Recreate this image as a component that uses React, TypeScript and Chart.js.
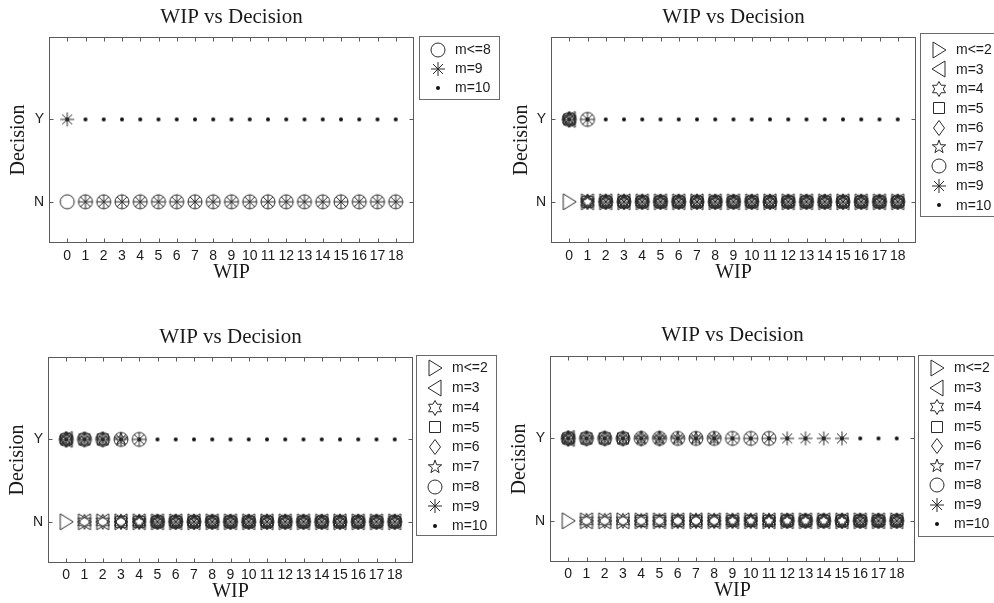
import React, { useEffect, useRef } from "react";
import { Chart, registerables } from "chart.js";

Chart.register(...registerables);

const SERIF = "'Liberation Serif', 'Times New Roman', Times, serif";
const SANS = "'Liberation Sans', Arial, Helvetica, sans-serif";
const FRAME = "#5a5a5a";
const LEGEND_BORDER = "#6a6a6a";
const MARK = "#2a2a2a";
const TEXT = "#1a1a1a";

// ---------- data ----------
const TITLE = "WIP vs Decision";
const X_TITLE = "WIP";
const Y_TITLE = "Decision";
const WIP = [0, 1, 2, 3, 4, 5, 6, 7, 8, 9, 10, 11, 12, 13, 14, 15, 16, 17, 18];
const Y_TICKS = [1, 2];
const Y_TICK_LABELS = ["N", "Y"];

const LABELS_FEW = ["m<=8", "m=9", "m=10"];
const LABELS_ALL = ["m<=2", "m=3", "m=4", "m=5", "m=6", "m=7", "m=8", "m=9", "m=10"];

// decision per WIP 0..18 (Y / N), grouped by 5 for readability
const P1_M8 = "NNNNN NNNNN NNNNN NNNN";
const P1_M9 = "YNNNN NNNNN NNNNN NNNN";
const P1_M10 = "YYYYY YYYYY YYYYY YYYY";

const P2_M2 = "NNNNN NNNNN NNNNN NNNN";
const P2_M3 = "YNNNN NNNNN NNNNN NNNN";
const P2_M4 = "YNNNN NNNNN NNNNN NNNN";
const P2_M5 = "YNNNN NNNNN NNNNN NNNN";
const P2_M6 = "YNNNN NNNNN NNNNN NNNN";
const P2_M7 = "YNNNN NNNNN NNNNN NNNN";
const P2_M8 = "YYNNN NNNNN NNNNN NNNN";
const P2_M9 = "YYNNN NNNNN NNNNN NNNN";
const P2_M10 = "YYYYY YYYYY YYYYY YYYY";

const P3_M2 = "NNNNN NNNNN NNNNN NNNN";
const P3_M3 = "YNNNN NNNNN NNNNN NNNN";
const P3_M4 = "YNNNN NNNNN NNNNN NNNN";
const P3_M5 = "YYYNN NNNNN NNNNN NNNN";
const P3_M6 = "YYYNN NNNNN NNNNN NNNN";
const P3_M7 = "YYYYN NNNNN NNNNN NNNN";
const P3_M8 = "YYYYY NNNNN NNNNN NNNN";
const P3_M9 = "YYYYY NNNNN NNNNN NNNN";
const P3_M10 = "YYYYY YYYYY YYYYY YYYY";

const P4_M2 = "NNNNN NNNNN NNNNN NNNN";
const P4_M3 = "YNNNN NNNNN NNNNN NNNN";
const P4_M4 = "YNNNN NNNNN NNNNN NNNN";
const P4_M5 = "YYYYN NNNNN NNNNN NNNN";
const P4_M6 = "YYYYY YNNNN NNNNN NNNN";
const P4_M7 = "YYYYY YYYYN NNNNN NNNN";
const P4_M8 = "YYYYY YYYYY YYNNN NNNN";
const P4_M9 = "YYYYY YYYYY YYYYY YNNN";
const P4_M10 = "YYYYY YYYYY YYYYY YYYY";

// ---------- styles / layout ----------
const MARKERS_FEW = ["circle", "asterisk", "dot"];
const MARKERS_ALL = ["triRight", "triLeft", "hexagram", "square", "diamond", "pentagram", "circle", "asterisk", "dot"];

const PANELS = [
  {
    x: 0, y: 0, w: 505, h: 300, ca: { l: 49, r: 414, t: 37, b: 243 },
    titlePad: [5, 8], yTitlePad: 7, xTitlePad: 15.6, xTickPad: 5,
    legend: { left: 419, top: 36, bottom: 99, first: 50, step: 19 },
    labels: LABELS_FEW, markers: MARKERS_FEW, series: [P1_M8, P1_M9, P1_M10],
  },
  {
    x: 505, y: 0, w: 510, h: 300, ca: { l: 46, r: 411, t: 37, b: 243 },
    titlePad: [5, 8], yTitlePad: 5, xTitlePad: 15.6, xTickPad: 5,
    legend: { left: 415, top: 33, bottom: 216, first: 50, step: 19.4 },
    labels: LABELS_ALL, markers: MARKERS_ALL,
    series: [P2_M2, P2_M3, P2_M4, P2_M5, P2_M6, P2_M7, P2_M8, P2_M9, P2_M10],
  },
  {
    x: 0, y: 300, w: 505, h: 303, ca: { l: 48, r: 413, t: 57, b: 263 },
    titlePad: [25, 8], yTitlePad: 6, xTitlePad: 0, xTickPad: 4,
    legend: { left: 416, top: 55, bottom: 235, first: 68, step: 19.75 },
    labels: LABELS_ALL, markers: MARKERS_ALL,
    series: [P3_M2, P3_M3, P3_M4, P3_M5, P3_M6, P3_M7, P3_M8, P3_M9, P3_M10],
  },
  {
    x: 505, y: 300, w: 510, h: 303, ca: { l: 45, r: 410, t: 56, b: 262 },
    titlePad: [23, 9], yTitlePad: 3, xTitlePad: 0.6, xTickPad: 4,
    legend: { left: 413, top: 55, bottom: 236, first: 68, step: 19.5 },
    labels: LABELS_ALL, markers: MARKERS_ALL,
    series: [P4_M2, P4_M3, P4_M4, P4_M5, P4_M6, P4_M7, P4_M8, P4_M9, P4_M10],
  },
];

function makeMarker(kind: string): HTMLCanvasElement {
  const S = 20;
  const c = S / 2;
  const cv = document.createElement("canvas");
  cv.width = S;
  cv.height = S;
  const g = cv.getContext("2d")!;
  g.strokeStyle = MARK;
  g.fillStyle = "#111";
  g.lineWidth = 1;
  g.beginPath();
  const star = (n: number, R: number, r: number) => {
    for (let k = 0; k < 2 * n; k++) {
      const rad = k % 2 === 0 ? R : r;
      const a = -Math.PI / 2 + (k * Math.PI) / n;
      const px = c + rad * Math.cos(a);
      const py = c + rad * Math.sin(a);
      if (k === 0) g.moveTo(px, py);
      else g.lineTo(px, py);
    }
    g.closePath();
  };
  switch (kind) {
    case "triRight":
      g.moveTo(c - 6, c - 8); g.lineTo(c + 7, c); g.lineTo(c - 6, c + 8); g.closePath(); g.stroke();
      break;
    case "triLeft":
      g.moveTo(c + 6, c - 8); g.lineTo(c - 7, c); g.lineTo(c + 6, c + 8); g.closePath(); g.stroke();
      break;
    case "hexagram":
      star(6, 7.5, 4.3); g.stroke();
      break;
    case "square":
      g.rect(c - 5.5, c - 5.5, 11, 11); g.stroke();
      break;
    case "diamond":
      g.moveTo(c, c - 7.5); g.lineTo(c + 5.5, c); g.lineTo(c, c + 7.5); g.lineTo(c - 5.5, c); g.closePath(); g.stroke();
      break;
    case "pentagram":
      star(5, 7, 2.8); g.stroke();
      break;
    case "circle":
      g.arc(c, c, 7, 0, Math.PI * 2); g.stroke();
      break;
    case "asterisk":
      for (let k = 0; k < 4; k++) {
        const a = (k * Math.PI) / 4;
        g.moveTo(c - 7 * Math.cos(a), c - 7 * Math.sin(a));
        g.lineTo(c + 7 * Math.cos(a), c + 7 * Math.sin(a));
      }
      g.stroke();
      break;
    case "dot":
      g.arc(c, c, 2, 0, Math.PI * 2); g.fill();
      break;
  }
  return cv;
}

const toPoints = (s: string) =>
  s.replace(/ /g, "").split("").map((d, j) => ({ x: WIP[j], y: d === "Y" ? Y_TICKS[1] : Y_TICKS[0] }));

function Panel({ cfg }: { cfg: any }) {
  const ref = useRef<HTMLCanvasElement>(null);
  useEffect(() => {
    const images = cfg.markers.map((m: string) => makeMarker(m));
    const decor = {
      id: "decor",
      afterDraw(chart: any) {
        const { ctx, chartArea: ca } = chart;
        const xs = chart.scales.x;
        const ys = chart.scales.y;
        ctx.save();
        ctx.strokeStyle = FRAME;
        ctx.lineWidth = 1;
        const L = Math.round(ca.left) + 0.5;
        const R = Math.round(ca.right) - 0.5;
        const T = Math.round(ca.top) + 0.5;
        const B = Math.round(ca.bottom) - 0.5;
        ctx.strokeRect(L, T, R - L, B - T);
        ctx.beginPath();
        WIP.forEach((w) => {
          const px = Math.round(xs.getPixelForValue(w)) + 0.5;
          ctx.moveTo(px, B); ctx.lineTo(px, B - 4);
          ctx.moveTo(px, T); ctx.lineTo(px, T + 4);
        });
        Y_TICKS.forEach((v) => {
          const py = Math.round(ys.getPixelForValue(v)) + 0.5;
          ctx.moveTo(L, py); ctx.lineTo(L + 4, py);
          ctx.moveTo(R, py); ctx.lineTo(R - 4, py);
        });
        ctx.stroke();

        // legend
        const lg = cfg.legend;
        ctx.strokeStyle = LEGEND_BORDER;
        ctx.strokeRect(lg.left + 0.5, lg.top + 0.5, 80, lg.bottom - lg.top);
        ctx.font = `14px ${SANS}`;
        ctx.fillStyle = TEXT;
        ctx.textBaseline = "middle";
        ctx.textAlign = "left";
        chart.data.datasets.forEach((ds: any, i: number) => {
          const ry = lg.first + i * lg.step;
          const img = images[i];
          ctx.drawImage(img, Math.round(lg.left + 19 - img.width / 2), Math.round(ry - img.height / 2));
          ctx.fillText(ds.label, lg.left + 36, ry + 0.5);
        });
        ctx.restore();
      },
    };

    const chart = new Chart(ref.current!, {
      type: "scatter",
      data: {
        datasets: cfg.series.map((s: string, i: number) => ({
          label: cfg.labels[i],
          data: toPoints(s),
          pointStyle: images[i],
          pointRadius: 7,
          pointHoverRadius: 7,
          showLine: false,
        })),
      },
      options: {
        responsive: false,
        animation: false,
        events: [],
        layout: { padding: { left: 0, right: cfg.w - cfg.ca.r, top: 0, bottom: 0 } },
        plugins: {
          legend: { display: false },
          tooltip: { enabled: false },
          title: {
            display: true,
            text: TITLE,
            fullSize: false,
            color: TEXT,
            font: { family: SERIF, size: 21, weight: "normal", lineHeight: 1.2 },
            padding: { top: cfg.titlePad[0] - 0.6, bottom: cfg.titlePad[1] - 0.6 },
          },
        },
        scales: {
          x: {
            type: "linear",
            min: -1,
            max: 19,
            afterBuildTicks: (s: any) => {
              s.ticks = [{ value: -1 }, ...WIP.map((w) => ({ value: w })), { value: 19 }];
            },
            ticks: {
              autoSkip: false,
              maxRotation: 0,
              minRotation: 0,
              padding: cfg.xTickPad,
              color: TEXT,
              font: { family: SANS, size: 14 },
              callback: (v: any) => (v < WIP[0] || v > WIP[WIP.length - 1] ? "" : String(v)),
            },
            grid: { display: false, drawTicks: false },
            border: { display: false },
            title: {
              display: true,
              text: X_TITLE,
              color: TEXT,
              font: { family: SERIF, size: 20 },
              padding: { top: 0, bottom: cfg.xTitlePad - 0.6 },
            },
            afterFit: (s: any) => {
              s.height = cfg.h - cfg.ca.b;
            },
          },
          y: {
            type: "linear",
            min: 0.5,
            max: 3,
            afterBuildTicks: (s: any) => {
              s.ticks = Y_TICKS.map((v) => ({ value: v }));
            },
            ticks: {
              padding: 5,
              color: TEXT,
              font: { family: SANS, size: 14 },
              callback: (v: any) => {
                const k = Y_TICKS.indexOf(Number(v));
                return k >= 0 ? Y_TICK_LABELS[k] : "";
              },
            },
            grid: { display: false, drawTicks: false },
            border: { display: false },
            title: {
              display: true,
              text: Y_TITLE,
              color: TEXT,
              font: { family: SERIF, size: 20 },
              padding: { top: cfg.yTitlePad, bottom: 0 },
            },
            afterFit: (s: any) => {
              s.width = cfg.ca.l;
            },
          },
        },
      },
      plugins: [decor],
    } as any);
    return () => chart.destroy();
  }, []);
  return (
    <canvas
      ref={ref}
      width={cfg.w}
      height={cfg.h}
      style={{ position: "absolute", left: cfg.x, top: cfg.y, width: cfg.w, height: cfg.h }}
    />
  );
}

export default function App() {
  return (
    <div
      style={{
        position: "absolute",
        left: 0,
        top: 0,
        width: 994,
        height: 603,
        overflow: "hidden",
        background: "#fff",
      }}
    >
      {PANELS.map((p, i) => (
        <Panel key={i} cfg={p} />
      ))}
    </div>
  );
}
